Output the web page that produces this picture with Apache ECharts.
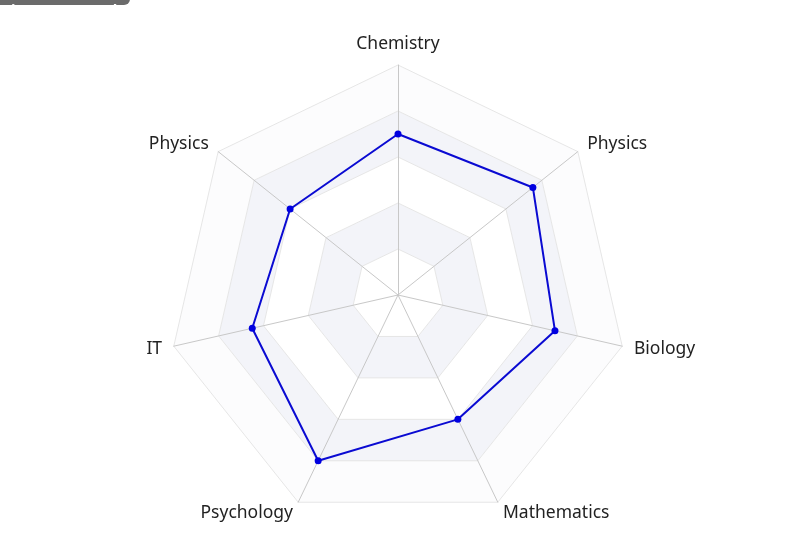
<!DOCTYPE html>
<html>
<head>
<meta charset="utf-8">
<script src="https://cdn.jsdelivr.net/npm/echarts@6/dist/echarts.min.js"></script>
<style>html,body{margin:0;padding:0;background:#fff}#c{width:786px;height:555px}</style>
</head>
<body>
<div id="c"></div>
<script>
var indicatorNames = ['Chemistry', 'Physics', 'IT', 'Psychology', 'Mathematics', 'Biology', 'Physics'];
var indicatorMax = [100, 100, 100, 100, 100, 100, 100];
var scores = [70, 60, 65, 80, 60, 70, 75];

var chart = echarts.init(document.getElementById('c'));
chart.setOption({
  animation: false,
  textStyle: { fontFamily: 'Noto Sans' },
  graphic: [
    { type: 'rect', shape: { x: -40, y: -20, width: 170, height: 25, r: 6 }, style: { fill: '#6b6b6b' }, z: 100 },
    { type: 'text', x: 122, y: 3, style: { text: 'Live Watermark', fill: '#fff', font: 'bold 15px Noto Sans', textAlign: 'right', textVerticalAlign: 'alphabetic' }, z: 101 }
  ],
  radar: {
    center: [398, 295],
    radius: 230,
    startAngle: 90,
    splitNumber: 5,
    indicator: indicatorNames.map(function (n, i) { return { name: n, max: indicatorMax[i] }; }),
    axisName: { color: '#222', fontSize: 17.5, fontFamily: 'Noto Sans', padding: [4, 0, 0, 0] },
    nameGap: 12,
    axisLine: { lineStyle: { color: '#c8c8c8' } },
    splitLine: { lineStyle: { color: '#e6e6e6' } },
    splitArea: { areaStyle: { color: ['#ffffff', '#f3f4f9', '#ffffff', '#f3f4f9', '#fcfcfd'] } }
  },
  series: [{
    type: 'radar',
    symbol: 'circle',
    symbolSize: 7,
    lineStyle: { color: '#0a0ad2', width: 2 },
    itemStyle: { color: '#0000e0' },
    data: [{ value: scores, name: 'Scores' }]
  }]
});
</script>
</body>
</html>
